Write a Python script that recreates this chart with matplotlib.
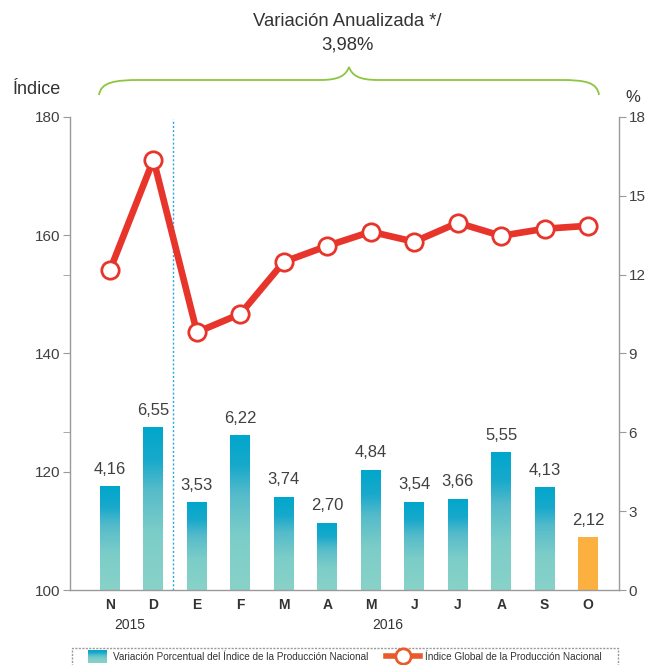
import numpy as np
import matplotlib
matplotlib.use('Agg')
import matplotlib.pyplot as plt
from matplotlib.colors import LinearSegmentedColormap
from matplotlib.patches import Rectangle
from matplotlib.path import Path
from matplotlib.patches import PathPatch
from matplotlib.lines import Line2D

plt.rcParams['font.family'] = ['Liberation Sans', 'DejaVu Sans']

months = ['N', 'D', 'E', 'F', 'M', 'A', 'M', 'J', 'J', 'A', 'S', 'O']
variacion = [4.16, 6.55, 3.53, 6.22, 3.74, 2.70, 4.84, 3.54, 3.66, 5.55, 4.13, 2.12]
indice = [154.1, 172.8, 143.6, 146.7, 155.5, 158.2, 160.6, 158.9, 162.1, 159.9, 161.1, 161.6]
left_ticks = [100, 120, 140, 160, 180]
right_ticks = [0, 3, 6, 9, 12, 15, 18]

gray = '#9a9a9a'
text_col = '#404040'
red = '#e8352b'
orange = '#fbb040'
grad = LinearSegmentedColormap.from_list(
    'bar', [(0, '#88d2c8'), (0.35, '#7ccdc8'), (0.62, '#55bbca'),
            (0.8, '#18a9cb'), (1, '#00a7cc')])

fig = plt.figure(figsize=(6.56, 6.65), dpi=100)
W, H = 656, 665
ax = fig.add_axes([70 / W, (H - 590) / H, (619 - 70) / W, (590 - 117) / H])
ax2 = ax.twinx()
# bars use a slightly taller scale than the printed % axis, as in the source chart
ax3 = ax.twinx()
ax3.axis('off')

x = np.arange(len(months))
bw = 0.46

for i, v in enumerate(variacion):
    if i == len(variacion) - 1:
        ax3.bar(x[i], v, width=bw, color=orange, zorder=2)
    else:
        g = np.linspace(0, 1, 256).reshape(-1, 1)
        ax3.imshow(g, cmap=grad, origin='lower', aspect='auto',
                   extent=[x[i] - bw / 2, x[i] + bw / 2, 0, v], zorder=2)
    ax3.text(x[i], v + 0.4, f'{v:.2f}'.replace('.', ','), ha='center', va='bottom',
             fontsize=12, color=text_col)

# index line on left axis
ax.plot(x, indice, color=red, lw=4.8, marker='o', markersize=12.5,
        markerfacecolor='white', markeredgecolor=red, markeredgewidth=2, zorder=5)

ax.set_zorder(ax3.get_zorder() + 1)
ax.patch.set_visible(False)

for a in (ax, ax2, ax3):
    a.set_xlim(-0.92, 11.71)
ax.set_ylim(100, 180)
ax2.set_ylim(0, 18)
ax3.set_ylim(0, 19.1)

ax.axvline(1.45, ymin=0, ymax=0.995, color='#2aa7dc', lw=1, ls=(0, (1.5, 1.5)), zorder=1)

for a in (ax, ax2):
    for s in a.spines.values():
        s.set_visible(False)
ax.spines['left'].set_visible(True)
ax.spines['bottom'].set_visible(True)
ax2.spines['right'].set_visible(True)
for s in (ax.spines['left'], ax.spines['bottom'], ax2.spines['right']):
    s.set_color(gray)
    s.set_linestyle((0, (1.5, 1)))
    s.set_linewidth(1)

ax.set_yticks(left_ticks)
ax.set_yticks([100 + 80 * 6 / 18, 100 + 80 * 12 / 18], minor=True)
ax.set_yticklabels([str(t) for t in left_ticks])
ax.tick_params(axis='y', which='both', length=5, color=gray, labelsize=11,
               labelcolor=text_col, pad=2)
ax2.set_yticks(right_ticks)
ax2.tick_params(axis='y', length=5, color=gray, labelsize=11, labelcolor=text_col, pad=2)

ax.set_xticks(x)
ax.set_xticklabels(months, fontsize=10, fontweight='bold', color='#333333')
ax.tick_params(axis='x', length=0, pad=6)

fig.text(130 / W, 1 - 625 / H, '2015', ha='center', va='center', fontsize=10, color='#333333')
fig.text(388 / W, 1 - 625 / H, '2016', ha='center', va='center', fontsize=10, color='#333333')

fig.text(37 / W, 1 - 90 / H, 'Índice', ha='center', va='center', fontsize=13, color='#333333')
fig.text(633 / W, 1 - 98 / H, '%', ha='center', va='center', fontsize=12, color='#333333')

fig.text(347 / W, 1 - 22 / H, 'Variación Anualizada */', ha='center', va='center',
         fontsize=13.3, color='#333333')
fig.text(347 / W, 1 - 45 / H, '3,98%', ha='center', va='center', fontsize=13.3, color='#333333')

# brace
def P(px, py):
    return (px / W, 1 - py / H)

verts = [P(99, 95), P(101, 82), P(115, 80), P(140, 80),
         P(320, 80),
         P(340, 80), P(346, 75), P(349, 67),
         P(352, 75), P(358, 80), P(378, 80),
         P(560, 80),
         P(585, 80), P(597, 82), P(599, 95)]
codes = [Path.MOVETO, Path.CURVE4, Path.CURVE4, Path.CURVE4,
         Path.LINETO,
         Path.CURVE4, Path.CURVE4, Path.CURVE4,
         Path.CURVE4, Path.CURVE4, Path.CURVE4,
         Path.LINETO,
         Path.CURVE4, Path.CURVE4, Path.CURVE4]
fig.add_artist(PathPatch(Path(verts, codes), transform=fig.transFigure, fill=False,
                         edgecolor='#8cc63f', lw=1.3))

# legend
fig.add_artist(Rectangle(P(72, 672), (618 - 72) / W, 24 / H, transform=fig.transFigure,
                         fill=False, edgecolor=gray, lw=1, ls=(0, (1.5, 1))))
lg = fig.add_axes([88 / W, 1 - 663 / H, 19 / W, 13 / H])
lg.imshow(np.linspace(0, 1, 64).reshape(-1, 1), cmap=grad, origin='lower', aspect='auto')
lg.axis('off')
fig.text(113 / W, 1 - 657 / H, 'Variación Porcentual del Índice de la Producción Nacional',
         ha='left', va='center', fontsize=7.2, color='#333333')
fig.add_artist(Line2D([386 / W, 420 / W], [1 - 656 / H, 1 - 656 / H], transform=fig.transFigure,
                      color='#e95a2b', lw=4))
fig.add_artist(Line2D([403 / W], [1 - 656 / H], transform=fig.transFigure, marker='o',
                      markersize=11, markerfacecolor='white', markeredgecolor='#e95a2b',
                      markeredgewidth=2))
fig.text(425 / W, 1 - 657 / H, 'Índice Global de la Producción Nacional',
         ha='left', va='center', fontsize=7.2, color='#333333')

fig.savefig('out.png', dpi=100)
